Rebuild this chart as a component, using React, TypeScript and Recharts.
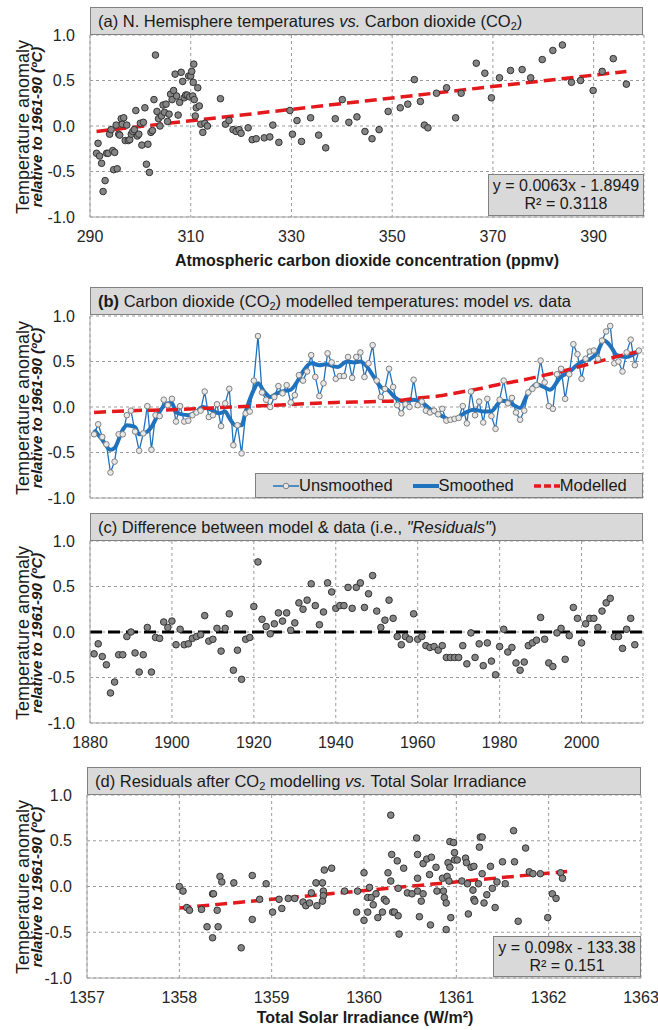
import React from 'react'
import { ComposedChart, Scatter, Line, XAxis, YAxis, CartesianGrid, ReferenceLine } from 'recharts'

const FONT = '"Liberation Sans", Arial, sans-serif'

// annual series from 1881 (temps run to 2014, residuals and CO2 to 2013)
const firstYear = 1881
const temps = [
  -0.30, -0.19, -0.33, -0.41, -0.72, -0.60, -0.30, -0.30, -0.09, -0.04,
  -0.27, -0.48, -0.29, 0.01, -0.47, -0.09, -0.10, 0.08, 0.02, 0.09,
  -0.16, 0.01, -0.16, -0.15, -0.09, -0.06, -0.04, 0.17, -0.11, -0.09,
  0.03, -0.21, 0.04, 0.20, -0.42, -0.20, -0.51, -0.07, -0.05, 0.29,
  0.78, 0.16, 0.08, 0.00, 0.11, 0.23, 0.15, 0.24, 0.05, 0.13,
  0.35, 0.29, 0.39, 0.57, 0.33, 0.12, 0.26, 0.59, 0.49, 0.31,
  0.34, 0.34, 0.55, 0.32, 0.55, 0.60, 0.33, 0.48, 0.68, 0.29,
  0.11, 0.20, 0.42, 0.22, 0.02, -0.07, 0.03, 0.00, 0.30, 0.02,
  0.06, -0.04, -0.06, -0.04, -0.08, -0.02, -0.15, -0.14, -0.13, -0.12,
  0.01, -0.18, 0.17, -0.09, 0.06, -0.17, 0.09, -0.10, -0.24, 0.08,
  0.29, 0.04, 0.10, -0.06, -0.14, -0.04, 0.16, 0.20, 0.24, 0.51,
  0.27, 0.01, -0.02, 0.36, 0.42, 0.09, 0.36, 0.69, 0.58, 0.31,
  0.53, 0.61, 0.62, 0.53, 0.73, 0.83, 0.89, 0.48, 0.50, 0.39,
  0.60, 0.74, 0.46, 0.62,
]
const residuals = [
  -0.24, -0.13, -0.27, -0.36, -0.67, -0.55, -0.25, -0.25, -0.05, 0.00,
  -0.23, -0.44, -0.25, 0.05, -0.44, -0.06, -0.07, 0.11, 0.05, 0.12,
  -0.14, 0.03, -0.14, -0.13, -0.07, -0.05, -0.03, 0.18, -0.10, -0.08,
  0.04, -0.21, 0.04, 0.20, -0.42, -0.20, -0.52, -0.08, -0.06, 0.28,
  0.77, 0.14, 0.06, -0.02, 0.09, 0.21, 0.12, 0.21, 0.02, 0.10,
  0.32, 0.25, 0.35, 0.53, 0.29, 0.08, 0.22, 0.54, 0.44, 0.26,
  0.29, 0.29, 0.49, 0.26, 0.49, 0.54, 0.27, 0.42, 0.62, 0.23,
  0.05, 0.13, 0.35, 0.15, -0.05, -0.14, -0.05, -0.08, 0.20, -0.08,
  -0.05, -0.15, -0.17, -0.16, -0.20, -0.15, -0.28, -0.28, -0.28, -0.28,
  -0.15, -0.35, -0.01, -0.28, -0.13, -0.37, -0.12, -0.32, -0.47, -0.16,
  0.03, -0.22, -0.17, -0.34, -0.42, -0.33, -0.15, -0.12, -0.09, 0.16,
  -0.08, -0.34, -0.38, -0.01, 0.04, -0.30, -0.04, 0.27, 0.15, -0.12,
  0.09, 0.15, 0.15, 0.05, 0.23, 0.32, 0.37, -0.05, -0.05, -0.18,
  0.03, 0.15, -0.14,
]
const co2 = [
  291.3, 291.6, 291.9, 292.3, 292.6, 293.0, 293.3, 293.6, 293.9, 294.2,
  294.5, 294.7, 294.9, 295.2, 295.4, 295.7, 295.9, 296.2, 296.4, 296.7,
  297.0, 297.3, 297.6, 297.9, 298.2, 298.5, 298.8, 299.1, 299.4, 299.7,
  300.0, 300.3, 300.6, 300.9, 301.2, 301.5, 301.8, 302.1, 302.4, 302.7,
  303.0, 303.3, 303.6, 303.9, 304.2, 304.5, 304.8, 305.1, 305.4, 305.7,
  306.0, 306.3, 306.6, 306.9, 307.2, 307.5, 307.8, 308.1, 308.4, 308.7,
  309.0, 309.3, 309.6, 309.8, 310.0, 310.2, 310.4, 310.5, 310.6, 310.7,
  310.9, 311.1, 311.4, 311.7, 312.0, 312.4, 312.8, 313.3, 315.9, 316.9,
  317.6, 318.4, 319.0, 319.6, 320.0, 321.4, 322.2, 323.0, 324.6, 325.7,
  326.3, 327.5, 329.7, 330.2, 331.1, 332.0, 333.8, 335.4, 336.8, 338.7,
  340.1, 341.4, 343.0, 344.6, 346.0, 347.4, 349.2, 351.6, 353.1, 354.4,
  355.6, 356.4, 357.1, 358.8, 360.8, 362.6, 363.7, 366.7, 368.4, 369.7,
  371.3, 373.5, 375.8, 377.5, 379.8, 381.9, 383.8, 385.6, 387.4, 389.9,
  391.7, 393.9, 396.5,
]

const smoothYears = [
  1881, 1883, 1885, 1886, 1888, 1889, 1891, 1892, 1894, 1895, 1897, 1899, 1900, 1901, 1904,
  1906, 1907.5, 1909.5, 1911.5, 1913, 1914, 1915.5, 1917, 1918, 1920, 1921, 1922.5, 1924,
  1925.7, 1927, 1929, 1930.6, 1932, 1934, 1936, 1937.5, 1940.4, 1942.8, 1944.4, 1946, 1947.3,
  1949.3, 1951, 1952.6, 1954.6, 1956.7, 1959, 1960.7, 1963.2, 1965.6, 1968, 1969.7, 1971.3,
  1973.7, 1976.2, 1977.8, 1980.5, 1982, 1983.5, 1985, 1986.7, 1989, 1990.8, 1992.3,
  1994.9, 1997.2, 1998.6, 2000.6, 2002.2, 2003.8, 2005.5, 2007.2, 2008.6, 2011, 2014,
]
const smoothValues = [
  -0.25, -0.36, -0.47, -0.45, -0.25, -0.20, -0.22, -0.30, -0.27, -0.22, -0.05, 0.04, 0.04, -0.06, -0.09,
  -0.05, 0.00, -0.03, -0.07, -0.05, -0.12, -0.20, -0.20, -0.05, 0.19, 0.26, 0.17, 0.11,
  0.15, 0.17, 0.19, 0.28, 0.39, 0.48, 0.46, 0.47, 0.44, 0.50, 0.49, 0.50, 0.46,
  0.33, 0.22, 0.19, 0.10, 0.06, 0.08, 0.06, -0.03, -0.09, -0.14, -0.12, -0.07,
  -0.03, -0.05, -0.05, 0.07, 0.06, 0.02, -0.01, 0.13, 0.25, 0.22, 0.19,
  0.33, 0.39, 0.45, 0.51, 0.53, 0.60, 0.73, 0.66, 0.57, 0.55, 0.62,
]

const modelYears = [1881, 1890, 1900, 1910, 1920, 1930, 1940, 1950, 1955, 1960, 1965, 1970, 1975, 1980, 1985, 1990, 1995, 2000, 2005, 2010, 2014]
const modelValues = [-0.06, -0.04, -0.03, -0.01, 0.01, 0.03, 0.05, 0.06, 0.07, 0.10, 0.12, 0.16, 0.20, 0.25, 0.29, 0.34, 0.39, 0.45, 0.51, 0.57, 0.61]

const tsiValues = [
  1358.00, 1358.04, 1358.08, 1358.11, 1358.24, 1358.30, 1358.36, 1358.37, 1358.41, 1358.42,
  1358.36, 1358.44, 1358.46, 1358.59, 1358.67, 1358.79, 1358.79, 1358.87, 1358.94, 1359.01,
  1359.08, 1359.11, 1359.18, 1359.25, 1359.34, 1359.37, 1359.41, 1359.43, 1359.48, 1359.49,
  1359.57, 1359.65, 1359.55, 1359.56, 1359.56, 1359.55, 1359.79, 1359.92, 1359.93, 1360.00,
  1360.00, 1360.04, 1360.06, 1360.04, 1360.08, 1360.10, 1360.13, 1360.15, 1360.20, 1360.22,
  1360.24, 1360.26, 1360.29, 1360.29, 1360.30, 1360.31, 1360.33, 1360.36, 1360.37, 1360.37,
  1360.38, 1360.43, 1360.47, 1360.52, 1360.57, 1360.58, 1360.58, 1360.58, 1360.60, 1360.62,
  1360.64, 1360.64, 1360.68, 1360.71, 1360.72, 1360.73, 1360.78, 1360.79, 1360.85, 1360.86,
  1360.87, 1360.89, 1360.89, 1360.90, 1360.91, 1360.92, 1360.93, 1360.93, 1360.94, 1360.97,
  1360.98, 1360.98, 1361.01, 1361.06, 1361.10, 1361.11, 1361.12, 1361.13, 1361.16, 1361.18,
  1361.19, 1361.19, 1361.20, 1361.24, 1361.25, 1361.26, 1361.28, 1361.28, 1361.30, 1361.33,
  1361.37, 1361.39, 1361.42, 1361.44, 1361.50, 1361.53, 1361.62, 1361.63, 1361.67, 1361.75,
  1361.79, 1361.83, 1361.91, 1361.99, 1362.04, 1362.08, 1362.13, 1362.15,
]
const tsiResiduals = [
  0.00, -0.05, -0.23, -0.26, -0.25, -0.44, -0.08, -0.08, -0.26, -0.44,
  -0.56, 0.11, 0.05, 0.04, -0.67, 0.12, -0.36, -0.14, 0.03, -0.28,
  -0.14, -0.24, -0.13, -0.13, -0.17, -0.21, -0.18, -0.07, 0.04, -0.21,
  0.18, 0.20, 0.04, -0.05, -0.10, -0.16, -0.05, -0.28, -0.05, 0.15,
  -0.37, -0.12, -0.01, -0.28, -0.12, -0.20, -0.08, -0.34, -0.28, -0.14,
  -0.16, 0.15, 0.06, 0.78, 0.35, -0.28, -0.28, 0.28, -0.02, -0.32,
  -0.52, 0.20, -0.07, -0.08, 0.53, 0.09, -0.05, 0.35, -0.33, -0.16,
  -0.08, 0.25, 0.30, 0.13, -0.42, 0.32, 0.21, -0.05, 0.09, -0.05,
  -0.12, -0.18, -0.47, 0.11, 0.26, 0.06, 0.49, 0.21, -0.34, 0.48,
  0.37, 0.29, 0.29, 0.06, 0.31, 0.26, 0.03, -0.30, 0.21, -0.04,
  0.22, -0.14, -0.16, 0.03, 0.43, 0.54, 0.54, 0.14, -0.18, -0.09,
  0.22, -0.02, -0.23, 0.05, 0.27, 0.03, 0.61, 0.27, -0.38, 0.42,
  0.16, 0.14, 0.14, -0.34, -0.08, -0.13, 0.15, 0.09,
]

// fitted trend end points (a) and (d)
const trendCo2 = [291.3, 396.5]
const trendCo2Values = [-0.06, 0.60]
const trendTsi = [1358.0, 1362.2]
const trendTsiValues = [-0.235, 0.165]

const tempTicks = [-1, -0.5, 0, 0.5, 1]
const co2Ticks = [290, 310, 330, 350, 370, 390, 400]
const yearTicks = [1880, 1900, 1920, 1940, 1960, 1980, 2000, 2015]
const tsiTicks = [1357, 1358, 1359, 1360, 1361, 1362, 1363]

const years = temps.map((_, i) => firstYear + i)
const pairs = (xs: number[], ys: number[]) => ys.map((y, i) => ({ x: xs[i], y }))

const scatterA = pairs(co2, temps.slice(0, co2.length))
const lineA = pairs(trendCo2, trendCo2Values)
const unsmoothed = pairs(years, temps)
const smoothed = pairs(smoothYears, smoothValues)
const modelled = pairs(modelYears, modelValues)
const scatterC = pairs(years, residuals)
const scatterD = pairs(tsiValues, tsiResiduals)
const lineD = pairs(trendTsi, trendTsiValues)

const BLUE = '#1f72bd'
const RED = '#e3191c'
const AXIS = '#a6a6a6'
const tickStyle = { fill: '#262626', fontSize: 16, fontFamily: FONT }

const GrayDot = (p: any) => (
  <circle cx={p.cx} cy={p.cy} r={3.3} fill="#858585" stroke="#333" strokeWidth={1} />
)

const yAxis = (
  <YAxis
    type="number"
    dataKey="y"
    domain={[-1, 1]}
    ticks={tempTicks}
    width={50}
    tickLine={false}
    tickSize={8}
    tickMargin={7}
    axisLine={{ stroke: AXIS }}
    tick={tickStyle}
    tickFormatter={(v: number) => v.toFixed(1)}
  />
)

function xAxis(domain: number[], ticks: number[], hidden: number | null, show = true) {
  return (
    <XAxis
      type="number"
      dataKey="x"
      domain={domain}
      ticks={ticks}
      interval={0}
      height={show ? 30 : 1}
      tick={show ? tickStyle : false}
      tickLine={false}
      tickSize={8}
      tickMargin={6}
      axisLine={{ stroke: AXIS }}
      tickFormatter={(v: number) => (v === hidden ? '' : String(v))}
    />
  )
}

const grid = <CartesianGrid stroke="#9c9c9c" strokeDasharray="3 3" />

function Sub({ children }: { children: React.ReactNode }) {
  return <span style={{ fontSize: 11, verticalAlign: -3 }}>{children}</span>
}

function TitleBox({ left, top, width, children }: any) {
  return (
    <div
      style={{
        position: 'absolute', left, top, width, height: 28, boxSizing: 'border-box',
        background: '#d9d9d9', border: '1px solid #808080', fontSize: 16.5, lineHeight: '26px',
        paddingLeft: 7, whiteSpace: 'nowrap', color: '#1a1a1a',
      }}
    >
      {children}
    </div>
  )
}

function YTitle({ cy }: { cy: number }) {
  return (
    <div
      style={{
        position: 'absolute', left: 29.5, top: cy, transform: 'translate(-50%, -50%) rotate(-90deg)',
        whiteSpace: 'nowrap', textAlign: 'center', color: '#1a1a1a',
      }}
    >
      <div style={{ fontSize: 18, lineHeight: '14px' }}>Temperature anomaly</div>
      <div style={{ fontSize: 15, fontWeight: 'bold', fontStyle: 'italic', lineHeight: '14px' }}>
        relative to 1961-90 (ºC)
      </div>
    </div>
  )
}

function Centered({ x, y, children, style }: any) {
  return (
    <div style={{ position: 'absolute', left: x, top: y, transform: 'translate(-50%, -50%)', whiteSpace: 'nowrap', ...style }}>
      {children}
    </div>
  )
}

function FitBox({ left, top, width, height, eq, r2 }: any) {
  return (
    <div
      style={{
        position: 'absolute', left, top, width, height, boxSizing: 'border-box', background: '#d9d9d9',
        border: '1px solid #808080', fontSize: 16, lineHeight: '18px', textAlign: 'center', paddingTop: 2,
        color: '#1a1a1a',
      }}
    >
      <div>{eq}</div>
      <div>{r2}</div>
    </div>
  )
}

function LegendItem({ kind, label, gap }: { kind: string; label: string; gap: number }) {
  return (
    <span style={{ display: 'inline-flex', alignItems: 'center', marginRight: gap }}>
      <svg width={26} height={12}>
        {kind === 'un' && (
          <>
            <line x1={0} y1={6} x2={26} y2={6} stroke={BLUE} strokeWidth={1.5} />
            <circle cx={13} cy={6} r={2.8} fill="#e8e8e8" stroke="#7f7f7f" />
          </>
        )}
        {kind === 'sm' && <line x1={0} y1={6} x2={26} y2={6} stroke={BLUE} strokeWidth={4} />}
        {kind === 'mod' && (
          <line x1={0} y1={6} x2={26} y2={6} stroke={RED} strokeWidth={3.5} strokeDasharray="7 3" />
        )}
      </svg>
      <span>{label}</span>
    </span>
  )
}

export default function App() {
  return (
    <div style={{ position: 'absolute', left: 0, top: 0, width: 658, height: 1030, background: '#fff', fontFamily: FONT }}>
      {/* (a) */}
      <div style={{ position: 'absolute', left: 0, top: 0 }}>
        <ComposedChart width={658} height={260} margin={{ top: 35, right: 14, left: 40, bottom: 13 }}>
          {grid}
          {xAxis([290, 400], co2Ticks, 400)}
          {yAxis}
          <Line data={lineA} dataKey="y" stroke={RED} strokeWidth={3.5} strokeDasharray="12 6" dot={false} isAnimationActive={false} />
          <Scatter data={scatterA} dataKey="y" shape={GrayDot} isAnimationActive={false} />
        </ComposedChart>
      </div>
      <TitleBox left={90} top={7} width={553}>
        (a) N. Hemisphere temperatures <i>vs.</i> Carbon dioxide (CO<Sub>2</Sub>)
      </TitleBox>
      <FitBox left={488} top={174} width={156} height={42} eq="y = 0.0063x - 1.8949" r2="R² = 0.3118" />
      <YTitle cy={127} />
      <Centered x={367} y={261} style={{ fontSize: 16, fontWeight: 'bold', color: '#1a1a1a' }}>
        Atmospheric carbon dioxide concentration (ppmv)
      </Centered>

      {/* (b) */}
      <div style={{ position: 'absolute', left: 0, top: 280 }}>
        <ComposedChart width={658} height={260} margin={{ top: 36, right: 15, left: 40, bottom: 41 }}>
          {grid}
          {xAxis([1880, 2015], yearTicks, 2015, false)}
          {yAxis}
          <Line data={unsmoothed} dataKey="y" stroke={BLUE} strokeWidth={1.3}
            dot={{ r: 2.8, fill: '#e8e8e8', stroke: '#7f7f7f', strokeWidth: 1 }} activeDot={false} isAnimationActive={false} />
          <Line data={smoothed} type="monotone" dataKey="y" stroke={BLUE} strokeWidth={4} dot={false} isAnimationActive={false} />
          <Line data={modelled} type="monotone" dataKey="y" stroke={RED} strokeWidth={3.5} strokeDasharray="12 6" dot={false} isAnimationActive={false} />
        </ComposedChart>
      </div>
      <TitleBox left={90} top={287} width={553}>
        <b>(b)</b> Carbon dioxide (CO<Sub>2</Sub>) modelled temperatures: model <i>vs.</i> data
      </TitleBox>
      <div
        style={{
          position: 'absolute', left: 255, top: 473, width: 388, height: 25, boxSizing: 'border-box',
          background: '#d9d9d9', border: '1px solid #808080', fontSize: 16.5, display: 'flex',
          alignItems: 'center', paddingLeft: 17, color: '#1a1a1a',
        }}
      >
        <LegendItem kind="un" label="Unsmoothed" gap={20} />
        <LegendItem kind="sm" label="Smoothed" gap={20} />
        <LegendItem kind="mod" label="Modelled" gap={0} />
      </div>
      <YTitle cy={408} />

      {/* (c) */}
      <div style={{ position: 'absolute', left: 0, top: 505 }}>
        <ComposedChart width={658} height={260} margin={{ top: 36, right: 15, left: 40, bottom: 12 }}>
          {grid}
          {xAxis([1880, 2015], yearTicks, 2015)}
          {yAxis}
          <ReferenceLine y={0} stroke="#000" strokeWidth={3} strokeDasharray="12 6" />
          <Scatter data={scatterC} dataKey="y" shape={GrayDot} isAnimationActive={false} />
        </ComposedChart>
      </div>
      <TitleBox left={90} top={513} width={553}>
        (c) Difference between model &amp; data (i.e., <i>"Residuals"</i>)
      </TitleBox>
      <YTitle cy={633} />

      {/* (d) */}
      <div style={{ position: 'absolute', left: 0, top: 760 }}>
        <ComposedChart width={658} height={260} margin={{ top: 35, right: 17, left: 37, bottom: 12 }}>
          {grid}
          {xAxis([1357, 1363], tsiTicks, null)}
          {yAxis}
          <Line data={lineD} dataKey="y" stroke={RED} strokeWidth={3.5} strokeDasharray="12 6" dot={false} isAnimationActive={false} />
          <Scatter data={scatterD} dataKey="y" shape={GrayDot} isAnimationActive={false} />
        </ComposedChart>
      </div>
      <TitleBox left={87} top={767} width={554}>
        (d) Residuals after CO<Sub>2</Sub> modelling <i>vs.</i> Total Solar Irradiance
      </TitleBox>
      <FitBox left={493} top={936} width={148} height={41} eq="y = 0.098x - 133.38" r2="R² = 0.151" />
      <YTitle cy={887} />
      <Centered x={365} y={1018} style={{ fontSize: 16, fontWeight: 'bold', color: '#1a1a1a' }}>
        Total Solar Irradiance (W/m²)
      </Centered>
    </div>
  )
}
